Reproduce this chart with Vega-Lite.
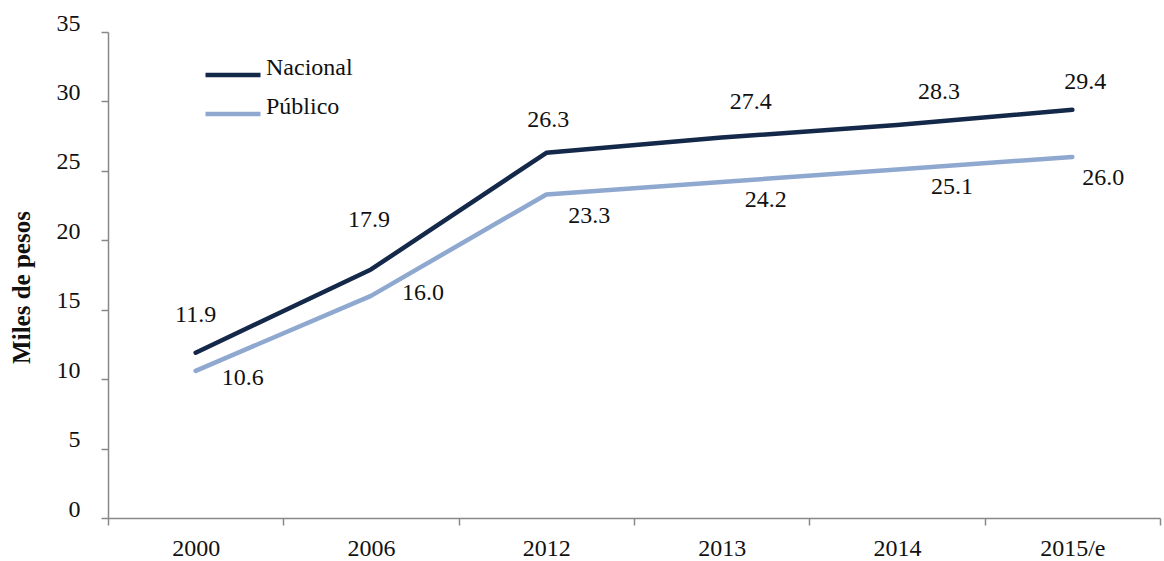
{
  "$schema": "https://vega.github.io/schema/vega-lite/v6.json",
  "width": 1052,
  "height": 486,
  "autosize": "none",
  "padding": {"left": 108, "top": 32, "right": 4, "bottom": 43},
  "background": "white",
  "config": {
    "view": {"stroke": null},
    "font": "'Liberation Serif', 'DejaVu Serif', serif",
    "text": {"font": "'Liberation Serif', 'DejaVu Serif', serif", "fontSize": 24, "color": "#111"}
  },
  "data": {
    "values": [
      {"anio": "2000", "serie": "Nacional", "valor": 11.9},
      {"anio": "2006", "serie": "Nacional", "valor": 17.9},
      {"anio": "2012", "serie": "Nacional", "valor": 26.3},
      {"anio": "2013", "serie": "Nacional", "valor": 27.4},
      {"anio": "2014", "serie": "Nacional", "valor": 28.3},
      {"anio": "2015/e", "serie": "Nacional", "valor": 29.4},
      {"anio": "2000", "serie": "Público", "valor": 10.6},
      {"anio": "2006", "serie": "Público", "valor": 16.0},
      {"anio": "2012", "serie": "Público", "valor": 23.3},
      {"anio": "2013", "serie": "Público", "valor": 24.2},
      {"anio": "2014", "serie": "Público", "valor": 25.1},
      {"anio": "2015/e", "serie": "Público", "valor": 26.0}
    ]
  },
  "encoding": {
    "x": {
      "field": "anio", "type": "ordinal", "sort": null,
      "scale": {"paddingInner": 0, "paddingOuter": 0},
      "axis": {
        "title": null, "labelAngle": 0, "tickBand": "extent",
        "domainColor": "#888", "tickColor": "#888", "tickSize": 7,
        "labelFont": "'Liberation Serif', 'DejaVu Serif', serif", "labelFontSize": 24, "labelColor": "#111",
        "labelPadding": 11, "domainWidth": 1.5, "tickWidth": 1.5
      }
    },
    "y": {
      "field": "valor", "type": "quantitative",
      "scale": {"domain": [0, 35], "nice": false},
      "axis": {
        "title": "Miles de pesos", "values": [0, 5, 10, 15, 20, 25, 30, 35],
        "grid": false, "domainColor": "#888", "tickColor": "#888", "tickSize": 7,
        "domainWidth": 1.5, "tickWidth": 1.5,
        "labelFont": "'Liberation Serif', 'DejaVu Serif', serif", "labelFontSize": 24, "labelColor": "#111",
        "labelPadding": 21, "labelBaseline": "alphabetic", "labelOffset": -2,
        "titleFont": "'Liberation Serif', 'DejaVu Serif', serif", "titleFontSize": 25, "titleFontWeight": "bold",
        "titleColor": "#111", "titlePadding": 22, "titleY": 255
      }
    }
  },
  "layer": [
    {
      "mark": {"type": "line", "strokeWidth": 4.5, "strokeCap": "round", "strokeJoin": "round"},
      "encoding": {
        "color": {
          "field": "serie", "type": "nominal",
          "scale": {"domain": ["Nacional", "Público"], "range": ["#14284a", "#8fa8d0"]},
          "legend": {
            "title": null, "orient": "none", "legendX": 95, "legendY": 13,
            "symbolType": "stroke", "symbolSize": 3025, "symbolStrokeWidth": 4.5,
            "labelFont": "'Liberation Serif', 'DejaVu Serif', serif", "labelFontSize": 24, "labelColor": "#111",
            "labelOffset": 3, "rowPadding": -12, "labelBaseline": "alphabetic"
          }
        }
      }
    },
    {"transform": [{"filter": "datum.serie === 'Nacional' && datum.anio === '2000'"}],
     "mark": {"type": "text", "dx": 0, "dy": -38}, "encoding": {"text": {"field": "valor", "type": "quantitative", "format": ".1f"}}},
    {"transform": [{"filter": "datum.serie === 'Nacional' && datum.anio === '2006'"}],
     "mark": {"type": "text", "dx": -2, "dy": -49}, "encoding": {"text": {"field": "valor", "type": "quantitative", "format": ".1f"}}},
    {"transform": [{"filter": "datum.serie === 'Nacional' && datum.anio === '2012'"}],
     "mark": {"type": "text", "dx": 2, "dy": -33}, "encoding": {"text": {"field": "valor", "type": "quantitative", "format": ".1f"}}},
    {"transform": [{"filter": "datum.serie === 'Nacional' && datum.anio === '2013'"}],
     "mark": {"type": "text", "dx": 29, "dy": -36}, "encoding": {"text": {"field": "valor", "type": "quantitative", "format": ".1f"}}},
    {"transform": [{"filter": "datum.serie === 'Nacional' && datum.anio === '2014'"}],
     "mark": {"type": "text", "dx": 42, "dy": -33}, "encoding": {"text": {"field": "valor", "type": "quantitative", "format": ".1f"}}},
    {"transform": [{"filter": "datum.serie === 'Nacional' && datum.anio === '2015/e'"}],
     "mark": {"type": "text", "dx": 13, "dy": -28}, "encoding": {"text": {"field": "valor", "type": "quantitative", "format": ".1f"}}},
    {"transform": [{"filter": "datum.serie === 'Público' && datum.anio === '2000'"}],
     "mark": {"type": "text", "dx": 47, "dy": 7}, "encoding": {"text": {"field": "valor", "type": "quantitative", "format": ".1f"}}},
    {"transform": [{"filter": "datum.serie === 'Público' && datum.anio === '2006'"}],
     "mark": {"type": "text", "dx": 52, "dy": -3}, "encoding": {"text": {"field": "valor", "type": "quantitative", "format": ".1f"}}},
    {"transform": [{"filter": "datum.serie === 'Público' && datum.anio === '2012'"}],
     "mark": {"type": "text", "dx": 43, "dy": 22}, "encoding": {"text": {"field": "valor", "type": "quantitative", "format": ".1f"}}},
    {"transform": [{"filter": "datum.serie === 'Público' && datum.anio === '2013'"}],
     "mark": {"type": "text", "dx": 44, "dy": 18}, "encoding": {"text": {"field": "valor", "type": "quantitative", "format": ".1f"}}},
    {"transform": [{"filter": "datum.serie === 'Público' && datum.anio === '2014'"}],
     "mark": {"type": "text", "dx": 55, "dy": 18}, "encoding": {"text": {"field": "valor", "type": "quantitative", "format": ".1f"}}},
    {"transform": [{"filter": "datum.serie === 'Público' && datum.anio === '2015/e'"}],
     "mark": {"type": "text", "dx": 31, "dy": 21}, "encoding": {"text": {"field": "valor", "type": "quantitative", "format": ".1f"}}}
  ]
}
